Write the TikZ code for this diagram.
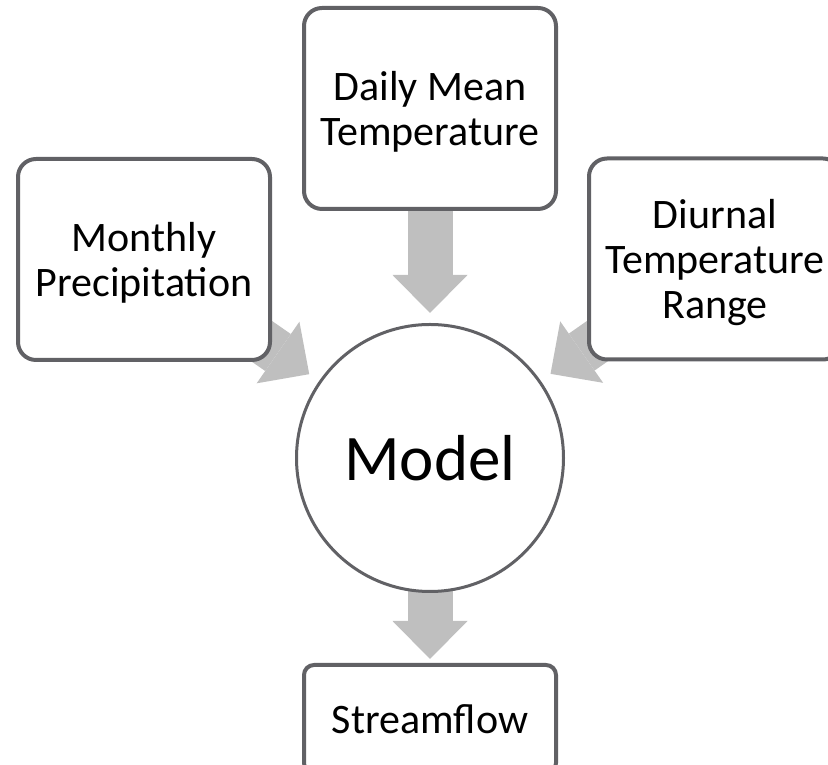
\documentclass[tikz,border=0pt]{standalone}
\usepackage{fontspec}
\setmainfont{Carlito}
\usepackage{tikz}
\usetikzlibrary{arrows.meta,positioning,backgrounds}
\definecolor{cEdge}{HTML}{616165}
\definecolor{cArrow}{HTML}{BFBFBF}
\tikzset{
  box/.style    ={rectangle, draw=cEdge, line width=4pt, fill=white,
                  align=center, font=\fontsize{42}{45}\selectfont, minimum width=252pt},
  inbox/.style  ={box, rounded corners=18pt, minimum height=201pt, text depth=-2pt},
  outbox/.style ={box, rounded corners=10pt, minimum height=108pt},
  core/.style   ={circle, draw=cEdge, line width=3pt, fill=white, inner sep=0pt,
                  minimum size=267pt, font=\fontsize{65}{70}\selectfont},
  fl/.style     ={line width=45pt, draw=cArrow,
                  -{Triangle[length=38pt,width=75pt,line width=0pt]}},
}

\begin{document}
\begin{tikzpicture}[x=1pt,y=1pt]
  \useasboundingbox (0,0) rectangle (828,765);
  \clip (0,0) rectangle (828,765);
  \node[core] (model) at (430,307) {Model};
  \node[inbox,above=112pt of model] (daily) {Daily Mean\\Temperature};
  \node[inbox] (prec) at (144,505.5) {Monthly\\Precipitation};
  \node[inbox] (range) at (715,506) {Diurnal\\Temperature\\Range};
  \node[outbox,below=70pt of model] (flow) {Streamflow};
  % block arrows sit under the boxes
  \begin{scope}[on background layer]
    \draw[fl,shorten >=10pt](daily.center)--(model);
    \draw[fl,shorten >=12pt](prec.center)--(model);
    \draw[fl,shorten >=12pt](range.center)--(model);
    \draw[fl,shorten >=4pt](model.center)--(flow);
  \end{scope}
\end{tikzpicture}
\end{document}
